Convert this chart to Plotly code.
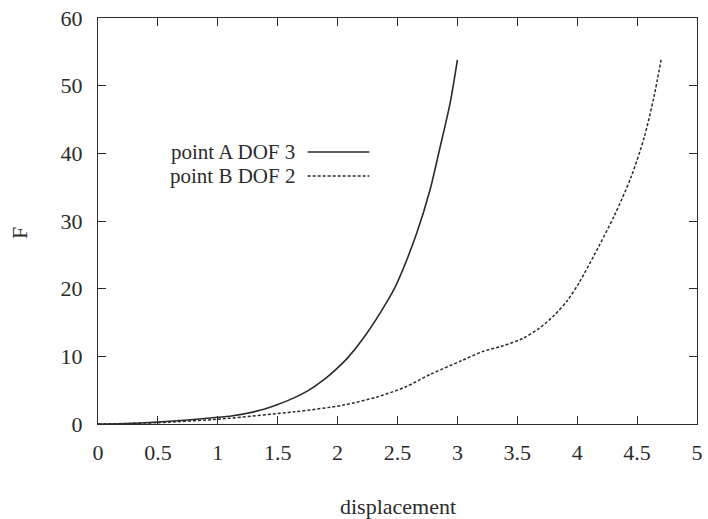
import plotly.graph_objects as go

# Data
a_disp = [0.0, 0.25, 0.5, 0.75, 1.0, 1.1, 1.36, 1.5, 1.64, 1.75, 1.91, 2.0, 2.08, 2.24, 2.41, 2.49,
          2.66, 2.77, 2.85, 2.94, 3.0]
a_force = [0.0, 0.08, 0.3, 0.6, 1.0, 1.15, 2.06, 2.9, 3.9, 4.9, 6.9, 8.3, 9.7, 13.3, 18.0, 20.6,
           28.2, 34.5, 40.5, 47.5, 53.8]

b_disp = [0.0, 0.5, 1.0, 1.09, 1.64, 2.05, 2.33, 2.57, 2.77, 3.04, 3.21, 3.37, 3.54, 3.68,
          3.81, 3.92, 4.02, 4.14, 4.31, 4.45, 4.56, 4.64, 4.70]
b_force = [0.0, 0.2, 0.7, 0.84, 1.8, 2.8, 4.0, 5.5, 7.3, 9.4, 10.7, 11.5, 12.6, 14.1,
           16.1, 18.3, 21.0, 24.9, 30.8, 36.5, 42.4, 48.3, 53.8]

series_names = ["point A DOF 3", "point B DOF 2"]
x_ticks = [0, 0.5, 1, 1.5, 2, 2.5, 3, 3.5, 4, 4.5, 5]
x_tick_labels = ["0", "0.5", "1", "1.5", "2", "2.5", "3", "3.5", "4", "4.5", "5"]
y_ticks = [0, 10, 20, 30, 40, 50, 60]

FONT = "Liberation Serif"
INK = "#2b2b2b"
FS = 22

fig = go.Figure()
fig.add_trace(go.Scatter(x=a_disp, y=a_force, mode="lines", name=series_names[0],
                         line=dict(color=INK, width=1.6, shape="spline", smoothing=0.8),
                         showlegend=False))
fig.add_trace(go.Scatter(x=b_disp, y=b_force, mode="lines", name=series_names[1],
                         line=dict(color=INK, width=1.5, dash="3px,2px", shape="spline", smoothing=0.8),
                         showlegend=False))

# gnuplot-style legend: text on the left, sample on the right
leg_y = [0.670, 0.611]
dashes = ["solid", "3px,2px"]
for name, yy, d in zip(series_names, leg_y, dashes):
    fig.add_annotation(x=0.331, y=yy, xref="paper", yref="paper", text=name,
                       showarrow=False, xanchor="right", yanchor="middle", borderpad=0,
                       font=dict(family=FONT, size=21, color=INK))
    fig.add_shape(type="line", xref="paper", yref="paper", x0=0.350, x1=0.453, y0=yy, y1=yy,
                  line=dict(color=INK, width=1.5, dash=d))

# axis titles
fig.add_annotation(x=0.5, y=-0.2044, xref="paper", yref="paper", text="displacement",
                   showarrow=False, xanchor="center", yanchor="middle",
                   font=dict(family=FONT, size=FS, color=INK))
fig.add_annotation(x=-0.132, y=0.470, xref="paper", yref="paper", text="F", textangle=-90,
                   showarrow=False, xanchor="center", yanchor="middle",
                   font=dict(family=FONT, size=FS, color=INK))

axis_common = dict(showline=True, mirror="ticks", linecolor=INK, linewidth=1.3,
                   ticks="inside", ticklen=8, tickwidth=1.2, tickcolor=INK,
                   showgrid=False, zeroline=False, ticklabeloverflow="allow",
                   tickfont=dict(family=FONT, size=FS, color=INK))

fig.update_xaxes(range=[0, 5], tickvals=x_ticks, ticktext=x_tick_labels,
                 ticklabelstandoff=8, **axis_common)
fig.update_yaxes(range=[0, 60], tickvals=y_ticks, ticklabelstandoff=10, **axis_common)

fig.update_layout(width=708, height=519, margin=dict(l=98, r=5, t=18, b=95),
                  paper_bgcolor="white", plot_bgcolor="white", showlegend=False)

fig.write_html("out.html")
